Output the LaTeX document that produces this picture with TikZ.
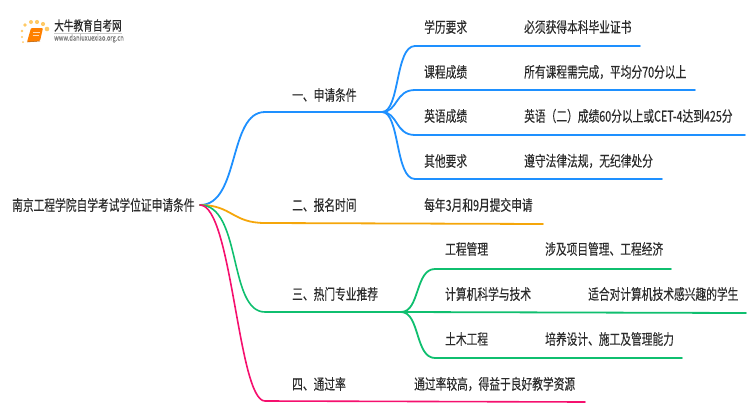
\documentclass[tikz,border=0pt]{standalone}
\usepackage{fontspec}
\setmainfont[FakeStretch=0.72,FakeBold=0.25]{Noto Sans CJK SC}
\usetikzlibrary{positioning}
\definecolor{bluebranch}{HTML}{1E90FF}
\definecolor{orangebranch}{HTML}{F5A60A}
\definecolor{greenbranch}{HTML}{0FBF6F}
\definecolor{pinkbranch}{HTML}{F5106E}
\definecolor{textgrey}{HTML}{2B2B2B}
\tikzset{
    label/.style={anchor=west,inner sep=0pt,text=textgrey,font=\fontsize{14.9}{15}\selectfont},
    wire/.style={line width=1.8pt,line cap=round},
}

\begin{document}
\begin{tikzpicture}[x=1pt,y=-1pt]
        \useasboundingbox (0,0) rectangle (750,410);
        \begin{scope}
            % logo
            \foreach \px/\py/\pr in {25/25/1.8,31/22/2,37/22/2.1,43/24/2.1,47/29/2.3,22/31/1.4,22/37/1.2,23/42/1}
                \fill [orange!70!yellow,opacity=.6] (\px,\py) circle (\pr);
            \fill [orange,rounded corners=1pt] (31,28) -- (43,28) -- (40,41) -- (27,42) -- cycle;
            \draw [orange!30,line width=.5pt] (33,32) -- (40,32) (32.5,35) -- (39,35);
            \draw [orange!70!black,line width=.5pt] (27,42) -- (40,41);
            \node (logotitle) [label,font=\fontsize{13.4}{13.4}\selectfont] at (54,25.5) {大牛教育自考网};
            \node (logourl) [label,font=\fontsize{8}{8}\selectfont,text=gray] at (54,38.5) {www.daniuxuexiao.org.cn};
            \draw [black!20,line width=.5pt] (54,33) -- (122,33);
        \end{scope}
        \begin{scope}
            \node (root) [label] at (12,205) {南京工程学院自学考试学位证申请条件};
            \coordinate (hub) at (200,205);
            % first level
            \node (apply) [label] at (292,95) {一、申请条件};
            \node (time) [label] at (292,205) {二、报名时间};
            \node (major) [label] at (292,294) {三、热门专业推荐};
            \node (rate) [label] at (292,384) {四、通过率};
            % second level
            \node (degree) [label] at (424,27) {学历要求};
            \node (degreetxt) [label] at (524,27) {必须获得本科毕业证书};
            \node (course) [label] at (424,72) {课程成绩};
            \node (coursetxt) [label] at (524,72) {所有课程需完成，平均分70分以上};
            \node (english) [label] at (424,116) {英语成绩};
            \node (englishtxt) [label] at (524,116) {英语（二）成绩60分以上或CET-4达到425分};
            \node (other) [label] at (424,161) {其他要求};
            \node (othertxt) [label] at (524,161) {遵守法律法规，无纪律处分};
            \node (timetxt) [label] at (424,205) {每年3月和9月提交申请};
            \node (project) [label] at (445,249) {工程管理};
            \node (projecttxt) [label] at (545,249) {涉及项目管理、工程经济};
            \node (comp) [label] at (445,294) {计算机科学与技术};
            \node (comptxt) [label] at (588,294) {适合对计算机技术感兴趣的学生};
            \node (civil) [label] at (445,339) {土木工程};
            \node (civiltxt) [label] at (545,339) {培养设计、施工及管理能力};
            \node (ratetxt) [label] at (414,384) {通过率较高，得益于良好教学资源};
            % line ends
            \coordinate (a0) at (265,112);
            \coordinate (a1) at (382,112);
            \coordinate (a2) at (265,223);
            \coordinate (a3) at (543,224);
            \coordinate (a4) at (265,312);
            \coordinate (a5) at (401,312);
            \coordinate (a6) at (265,401);
            \coordinate (a7) at (585,402);
            \coordinate (b1) at (415,46);
            \coordinate (b2) at (640,46);
            \coordinate (c1) at (415,90);
            \coordinate (c2) at (695,90);
            \coordinate (d1) at (415,135);
            \coordinate (d2) at (745,135);
            \coordinate (e1) at (415,179);
            \coordinate (e2) at (662,179);
            \coordinate (f1) at (435,269);
            \coordinate (f2) at (671,269);
            \coordinate (g2) at (746,313);
            \coordinate (h1) at (435,358);
            \coordinate (h2) at (682,358);
            % branches
            \draw [wire,bluebranch] (hub) .. controls (240,205) and (228,112) .. (a0) -- (a1);
            \draw [wire,orangebranch] (hub) .. controls (232,205) and (232,223) .. (a2) -- (a3);
            \draw [wire,greenbranch,line width=1.6pt] (hub) .. controls (242,205) and (228,312) .. (a4) -- (a5);
            \draw [wire,pinkbranch,line width=1.6pt] (hub) .. controls (232,205) and (238,401) .. (a6) -- (a7);
            \draw [wire,bluebranch] (a1) .. controls (400,112) and (395,46) .. (b1) -- (b2);
            \draw [wire,bluebranch] (a1) .. controls (398,112) and (395,90) .. (c1) -- (c2);
            \draw [wire,bluebranch] (a1) .. controls (398,112) and (395,135) .. (d1) -- (d2);
            \draw [wire,bluebranch] (a1) .. controls (400,112) and (395,179) .. (e1) -- (e2);
            \draw [wire,greenbranch] (a5) .. controls (420,312) and (415,269) .. (f1) -- (f2);
            \draw [wire,greenbranch] (a5) -- (g2);
            \draw [wire,greenbranch] (a5) .. controls (420,312) and (415,358) .. (h1) -- (h2);
        \end{scope}
    \end{tikzpicture}
\end{document}
